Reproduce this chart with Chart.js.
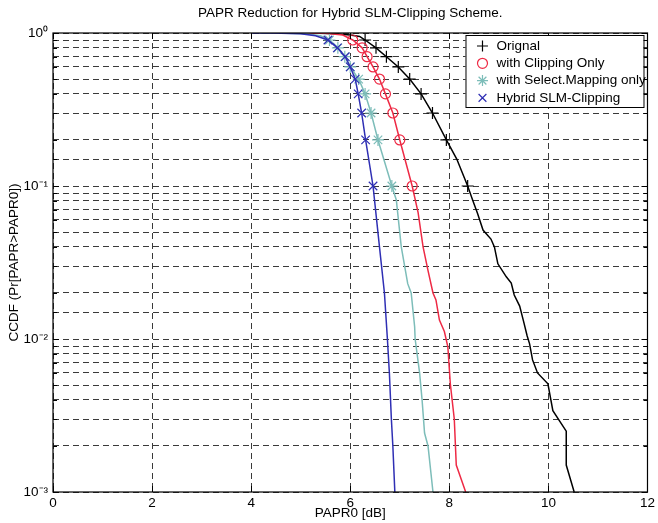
<!DOCTYPE html>
<html>
<head>
<meta charset="utf-8">
<script src="https://cdn.jsdelivr.net/npm/chart.js@4.4.0/dist/chart.umd.min.js"></script>
<style>
  body { margin: 0; background: #fff; }
</style>
</head>
<body>
<canvas id="papr-chart" width="658" height="523"></canvas>
<script>
// CCDF curves (x = PAPR0 in dB, p = probability)
var origX = [4.6, 5.2, 5.7, 6.0, 6.19, 6.3, 6.52, 6.73, 6.97, 7.2, 7.43, 7.66, 7.94, 8.15, 8.37, 8.47, 8.57, 8.68, 8.84, 8.91, 8.98, 9.15, 9.25, 9.31, 9.42, 9.5, 9.57, 9.62, 9.68, 9.78, 9.99, 10.09, 10.26, 10.36, 10.36, 10.52];
var origP = [1, 0.999, 0.99, 0.97, 0.95, 0.9, 0.8, 0.7, 0.6, 0.5, 0.4, 0.3, 0.2, 0.15, 0.1, 0.081, 0.066, 0.0515, 0.045, 0.04, 0.031, 0.0255, 0.0232, 0.0194, 0.0164, 0.013, 0.0105, 0.0093, 0.0073, 0.006, 0.0051, 0.0034, 0.0028, 0.0025, 0.0015, 0.001];

var clipX = [4.4, 4.8, 5.5, 5.85, 6.05, 6.24, 6.34, 6.46, 6.59, 6.71, 6.86, 7.0, 7.25, 7.37, 7.47, 7.57, 7.67, 7.73, 7.8, 7.9, 7.97, 8.02, 8.1, 8.14, 8.33];
var clipP = [1, 0.999, 0.995, 0.97, 0.9, 0.8, 0.7, 0.6, 0.5, 0.4, 0.3, 0.2, 0.1, 0.067, 0.04, 0.028, 0.02, 0.018, 0.0133, 0.0112, 0.0089, 0.0051, 0.003, 0.0015, 0.001];

var slmX = [4.2, 4.5, 5.1, 5.4, 5.58, 5.75, 5.89, 6.0, 6.17, 6.3, 6.42, 6.56, 6.84, 6.93, 7.03, 7.16, 7.23, 7.3, 7.31, 7.4, 7.45, 7.5, 7.57, 7.67];
var slmP = [1, 0.999, 0.99, 0.96, 0.9, 0.8, 0.7, 0.6, 0.5, 0.4, 0.3, 0.2, 0.1, 0.081, 0.04, 0.023, 0.02, 0.012, 0.01, 0.006, 0.004, 0.00243, 0.002, 0.001];

var hybX = [4.0, 4.4, 5.0, 5.3, 5.55, 5.74, 5.9, 6.0, 6.1, 6.16, 6.23, 6.31, 6.46, 6.59, 6.69, 6.75, 6.79, 6.83, 6.86, 6.9];
var hybP = [1, 0.999, 0.99, 0.96, 0.9, 0.8, 0.7, 0.6, 0.5, 0.4, 0.3, 0.2, 0.1, 0.04, 0.02, 0.01, 0.006, 0.003, 0.002, 0.001];

// markers sit at these CCDF levels
var markLevels = [0.9, 0.8, 0.7, 0.6, 0.5, 0.4, 0.3, 0.2, 0.1];
var origMarkX = [6.3, 6.52, 6.73, 6.97, 7.2, 7.43, 7.66, 7.94, 8.37];
var clipMarkX = [6.05, 6.24, 6.34, 6.46, 6.59, 6.71, 6.86, 7.0, 7.25];
var slmMarkX = [5.58, 5.75, 5.89, 6.0, 6.17, 6.3, 6.42, 6.56, 6.84];
var hybMarkX = [5.55, 5.74, 5.9, 6.0, 6.1, 6.16, 6.23, 6.31, 6.46];

var seriesNames = ['Orignal', 'with Clipping Only', 'with Select.Mapping only', 'Hybrid SLM-Clipping'];
var xTicks = [0, 2, 4, 6, 8, 10, 12];
var yDecades = [1, 0.1, 0.01, 0.001];
var yTickLabels = ['10\u2070', '10\u207b\u00b9', '10\u207b\u00b2', '10\u207b\u00b3'];

var colors = ['#000000', '#ee2a45', '#7dbdb9', '#2f2fb4'];
var styles = ['cross', 'circle', 'star', 'crossRot'];
var FONT = "'Liberation Sans', Arial, Helvetica, sans-serif";
var FS = 13.5;

function pts(xs, ps) {
    return xs.map(function(x, i) { return { x: x, y: ps[i] }; });
}

var lines = [[origX, origP], [clipX, clipP], [slmX, slmP], [hybX, hybP]];
var marks = [origMarkX, clipMarkX, slmMarkX, hybMarkX];

var datasets = [];
// blue drawn on top, black at the bottom
for (var i = 3; i >= 0; i--) {
    datasets.push({
        label: seriesNames[i],
        data: pts(marks[i], markLevels),
        showLine: false,
        pointStyle: styles[i],
        pointRadius: i == 1 ? 5 : 6,
        pointBorderWidth: 1.2,
        pointBorderColor: colors[i],
        pointBackgroundColor: 'rgba(0,0,0,0)',
        pointHoverRadius: 6
    });
    datasets.push({
        label: seriesNames[i] + ' line',
        data: pts(lines[i][0], lines[i][1]),
        showLine: true,
        borderColor: colors[i],
        borderWidth: 1.5,
        pointRadius: 0,
        tension: 0
    });
}

// title, frame, inward ticks and the boxed legend, MATLAB style
var matlabLook = {
    id: 'matlabLook',
    afterDraw: function(chart) {
        var c = chart.ctx, a = chart.chartArea;
        var xs = chart.scales.x, ys = chart.scales.y;
        c.save();
        // title
        c.fillStyle = '#000';
        c.font = FS + 'px ' + FONT;
        c.textAlign = 'center';
        c.textBaseline = 'middle';
        c.fillText('PAPR Reduction for Hybrid SLM-Clipping Scheme.', (a.left + a.right) / 2, 13);

        // ticks
        c.strokeStyle = '#000';
        c.lineWidth = 1;
        c.beginPath();
        ys.ticks.forEach(function(t) {
            var y = Math.round(ys.getPixelForValue(t.value)) + 0.5;
            var e = Math.log10(t.value);
            var len = Math.abs(e - Math.round(e)) < 1e-6 ? 6 : 4;
            c.moveTo(a.left, y); c.lineTo(a.left + len, y);
            c.moveTo(a.right, y); c.lineTo(a.right - len, y);
        });
        xTicks.forEach(function(v) {
            var x = Math.round(xs.getPixelForValue(v)) + 0.5;
            c.moveTo(x, a.bottom); c.lineTo(x, a.bottom - 6);
            c.moveTo(x, a.top); c.lineTo(x, a.top + 6);
        });
        c.stroke();

        // frame
        c.lineWidth = 1.2;
        c.strokeRect(a.left, a.top, a.right - a.left, a.bottom - a.top);

        // legend box
        var bw = 178, bh = 72;
        var bx = a.right - 4 - bw, by = a.top + 2;
        c.fillStyle = '#fff';
        c.fillRect(bx, by, bw, bh);
        c.lineWidth = 1;
        c.strokeStyle = '#000';
        c.strokeRect(bx + 0.5, by + 0.5, bw, bh);
        c.textAlign = 'left';
        c.font = FS + 'px ' + FONT;
        for (var k = 0; k < 4; k++) {
            var ry = by + 11 + k * 17.3;
            drawMarker(c, styles[k], colors[k], bx + 17, ry, k == 1 ? 5 : 5.5);
            c.fillStyle = '#000';
            c.fillText(seriesNames[k], bx + 31, ry);
        }
        c.restore();
    }
};

function drawMarker(c, style, color, x, y, r) {
    c.save();
    c.strokeStyle = color;
    c.lineWidth = 1.2;
    c.beginPath();
    if (style == 'circle') {
        c.arc(x, y, r, 0, Math.PI * 2);
    } else {
        var angs = style == 'cross' ? [0, 90] : style == 'crossRot' ? [45, 135] : [0, 45, 90, 135];
        angs.forEach(function(d) {
            var t = d * Math.PI / 180;
            c.moveTo(x - r * Math.cos(t), y - r * Math.sin(t));
            c.lineTo(x + r * Math.cos(t), y + r * Math.sin(t));
        });
    }
    c.stroke();
    c.restore();
}

document.addEventListener('DOMContentLoaded', function() {
    var ctx = document.getElementById('papr-chart').getContext('2d');
    Chart.defaults.font.family = FONT;
    Chart.defaults.color = '#000';

    var myChart = new Chart(ctx, {
        type: 'scatter',
        data: { datasets: datasets },
        options: {
            responsive: false,
            animation: false,
            layout: { padding: { top: 33, right: 10, left: 0, bottom: 0 } },
            plugins: {
                legend: { display: false },
                title: { display: false },
                tooltip: { enabled: false }
            },
            scales: {
                x: {
                    type: 'linear',
                    min: 0,
                    max: 12,
                    afterFit: function(s) { s.height = 31; },
                    afterBuildTicks: function(s) {
                        s.ticks = xTicks.map(function(v) { return { value: v }; });
                    },
                    ticks: { font: { size: FS }, padding: 3, maxRotation: 0 },
                    grid: { color: '#3a3a3a', lineWidth: 1, drawTicks: false },
                    border: { display: false, dash: [6, 4] },
                    title: { display: true, text: 'PAPR0 [dB]', font: { size: FS }, padding: { top: 0, bottom: 2 } }
                },
                y: {
                    type: 'logarithmic',
                    min: 0.001,
                    max: 1,
                    afterFit: function(s) { s.width = 53; },
                    ticks: {
                        autoSkip: false,
                        padding: 5,
                        font: { size: FS },
                        callback: function(v) {
                            for (var j = 0; j < yDecades.length; j++) {
                                if (Math.abs(Math.log10(v) - Math.log10(yDecades[j])) < 1e-6) return yTickLabels[j];
                            }
                            return '';
                        }
                    },
                    grid: { color: '#3a3a3a', lineWidth: 1, drawTicks: false },
                    border: { display: false, dash: [6, 4] },
                    title: { display: true, text: 'CCDF (Pr[PAPR>PAPR0])', font: { size: FS }, padding: { top: 6, bottom: 0 } }
                }
            }
        },
        plugins: [matlabLook]
    });
});
</script>
</body>
</html>
